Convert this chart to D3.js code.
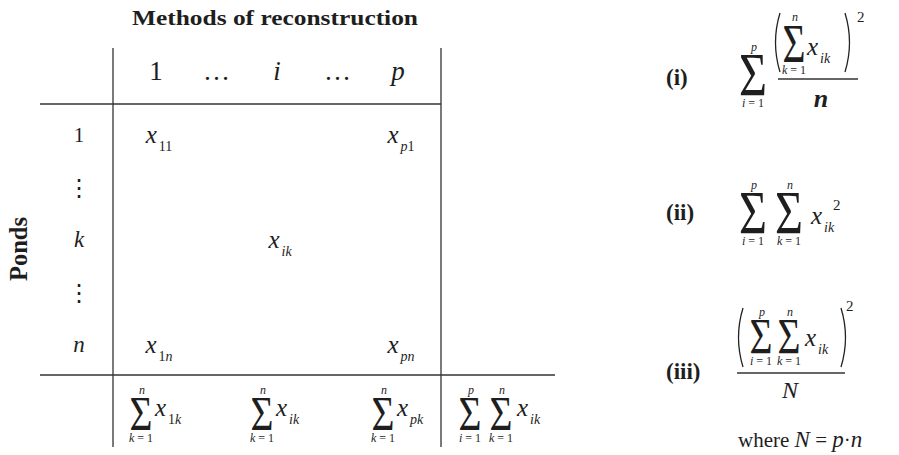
<!DOCTYPE html>
<html>
<head>
<meta charset="utf-8">
<title>Methods of reconstruction</title>
<style>
  body { margin: 0; background: #fff; }
  svg text { font-family: "Liberation Serif", "DejaVu Serif", serif; fill: #1e1e1e; }
  svg .it { font-family: "Liberation Serif", "DejaVu Serif", serif; font-style: italic; }
  .rule { stroke: #333; stroke-width: 1.3; }
</style>
</head>
<body>
<svg width="899" height="455"></svg>
<script src="https://d3js.org/d3.v7.min.js"></script>
<script>
// table contents
var colLabels = ["1", "\u2026", "i", "\u2026", "p"];
var rowLabels = ["1", "\u22ee", "k", "\u22ee", "n"];
var cells = [
  {col: 0, row: 0, sub: "11"},
  {col: 4, row: 0, sub: "p1"},
  {col: 2, row: 2, sub: "ik"},
  {col: 0, row: 4, sub: "1n"},
  {col: 4, row: 4, sub: "pn"}
];
var colTotals = [{col: 0, sub: "1k"}, {col: 2, sub: "ik"}, {col: 4, sub: "pk"}];
var formulaLabels = ["(i)", "(ii)", "(iii)"];

var svg = d3.select("svg");

var colX = d3.scalePoint().domain(d3.range(colLabels.length)).range([156, 398]);
var rowY = d3.scalePoint().domain(d3.range(rowLabels.length)).range([135, 345]);

var tb = {left: 40, stub: 113, right: 441, outer: 555, top: 48, head: 104, foot: 375, bottom: 447};

function isLetter(s) { return /[a-zA-Z]/.test(s); }

// letters italic, digits and signs upright
function addRuns(t, str, size, dy, dx) {
  str.match(/[a-zA-Z]+|[^a-zA-Z]+/g).forEach(function (r, i) {
    var ts = t.append("tspan").text(r)
      .attr("class", isLetter(r) ? "it" : null)
      .style("font-size", size + "px");
    if (i === 0) ts.attr("dy", dy || 0).attr("dx", dx || 0);
  });
  return t;
}

// x with subscript
function xVar(g, x, y, sub, anchor, size) {
  size = size || 25;
  var t = g.append("text").attr("x", x).attr("y", y).attr("text-anchor", anchor || "start");
  t.append("tspan").text("x").attr("class", "it").style("font-size", size + "px");
  addRuns(t, sub, size * 0.56, size * 0.3, 2);
  return t;
}

function small(g, x, y, str, size) {
  return addRuns(g.append("text").attr("x", x).attr("y", y).attr("text-anchor", "middle"), str, size || 12);
}

// big summation sign, cx centre, bottom edge, height h, width w
function sigma(g, cx, bottom, h, w) {
  var fs = h / 0.662;
  var t = g.append("text").text("\u03a3")
    .attr("text-anchor", "middle")
    .style("font-size", fs + "px");
  var bw = t.node().getBBox().width;
  t.attr("transform", "translate(" + cx + "," + bottom + ") scale(" + (w / bw) + ",1)");
}

function sumWithLimits(g, cx, bottom, h, w, top, low) {
  sigma(g, cx, bottom, h, w);
  small(g, cx + 1, bottom - h - 4, top);
  small(g, cx, bottom + 12, low);
}

function paren(g, x, y0, y1, dir) {
  var p = d3.path();
  p.moveTo(x, y0);
  p.quadraticCurveTo(x - dir * 9, (y0 + y1) / 2, x, y1);
  g.append("path").attr("d", p.toString()).attr("fill", "none")
    .attr("stroke", "#222").attr("stroke-width", 1.3);
}

// ---------- table ----------
var T = svg.append("g");

T.append("text").attr("x", 275).attr("y", 25).attr("text-anchor", "middle")
  .attr("textLength", 286).attr("lengthAdjust", "spacingAndGlyphs")
  .style("font-weight", "bold").style("font-size", "20px")
  .text("Methods of reconstruction");

T.append("text").attr("transform", "translate(27,249) rotate(-90)")
  .attr("text-anchor", "middle").attr("textLength", 64).attr("lengthAdjust", "spacingAndGlyphs")
  .style("font-weight", "bold").style("font-size", "26px")
  .text("Ponds");

T.append("line").attr("class", "rule").attr("x1", tb.stub).attr("x2", tb.stub).attr("y1", tb.top).attr("y2", tb.bottom);
T.append("line").attr("class", "rule").attr("x1", tb.right).attr("x2", tb.right).attr("y1", tb.top).attr("y2", tb.bottom);
T.append("line").attr("class", "rule").attr("x1", tb.left).attr("x2", tb.right).attr("y1", tb.head).attr("y2", tb.head);
T.append("line").attr("class", "rule").attr("x1", tb.left).attr("x2", tb.outer).attr("y1", tb.foot).attr("y2", tb.foot);

T.selectAll(".colLabel").data(colLabels).enter().append("text")
  .attr("class", function (d) { return isLetter(d) ? "colLabel it" : "colLabel"; })
  .attr("x", function (d, i) { return colX(i); })
  .attr("y", 80)
  .attr("text-anchor", "middle")
  .style("font-size", "27px")
  .text(function (d) { return d; });

T.selectAll(".rowLabel").data(rowLabels).enter().append("text")
  .attr("class", function (d) { return isLetter(d) ? "rowLabel it" : "rowLabel"; })
  .attr("x", 79)
  .attr("y", function (d, i) { return rowY(i) + (d === "\u22ee" ? 8 : 7); })
  .attr("text-anchor", "middle")
  .style("font-size", function (d) { return d === "\u22ee" ? "24px" : (isLetter(d) ? "23px" : "21px"); })
  .style("font-family", function (d) { return d === "\u22ee" ? "DejaVu Serif" : null; })
  .text(function (d) { return d; });

cells.forEach(function (c) {
  xVar(T, colX(c.col) + 3, rowY(c.row) + 8, c.sub, "middle");
});

colTotals.forEach(function (c) {
  var cx = colX(c.col);
  sumWithLimits(T, cx - 15, 430, 32, 23, "n", "k = 1");
  xVar(T, cx - 1, 416, c.sub, "start");
});

var gx = (tb.right + tb.outer) / 2;
sumWithLimits(T, gx - 28, 430, 32, 23, "p", "i = 1");
sumWithLimits(T, gx + 3, 430, 32, 23, "n", "k = 1");
xVar(T, gx + 19, 416, "ik", "start");

// ---------- formulas ----------
var F = svg.append("g");
var labelY = [85, 220, 379];

F.selectAll(".flabel").data(formulaLabels).enter().append("text")
  .attr("class", "flabel")
  .attr("x", 666).attr("y", function (d, i) { return labelY[i]; })
  .style("font-weight", "bold").style("font-size", "23px")
  .text(function (d) { return d; });

// (i)
sumWithLimits(F, 753, 95, 40, 28, "p", "i = 1");
F.append("line").attr("class", "rule").attr("x1", 778).attr("x2", 858).attr("y1", 79).attr("y2", 79);
paren(F, 780, 13, 72, 1);
paren(F, 845, 13, 72, -1);
sumWithLimits(F, 794, 62, 37, 23, "n", "k = 1");
xVar(F, 807, 55, "ik", "start");
F.append("text").attr("x", 857).attr("y", 22).style("font-size", "15px").text("2");
F.append("text").attr("x", 821).attr("y", 107).attr("text-anchor", "middle").attr("class", "it")
  .style("font-size", "26px").style("font-weight", "bold").text("n");

// (ii)
sumWithLimits(F, 753, 233, 40, 28, "p", "i = 1");
sumWithLimits(F, 789, 233, 40, 28, "n", "k = 1");
xVar(F, 811, 224, "ik", "start");
F.append("text").attr("x", 833).attr("y", 210).style("font-size", "15px").text("2");

// (iii)
paren(F, 743, 308, 367, 1);
paren(F, 841, 308, 367, -1);
sumWithLimits(F, 761, 353, 33, 23, "p", "i = 1");
sumWithLimits(F, 789, 353, 33, 23, "n", "k = 1");
xVar(F, 805, 346, "ik", "start");
F.append("text").attr("x", 846).attr("y", 311).style("font-size", "15px").text("2");
F.append("line").attr("class", "rule").attr("x1", 737).attr("x2", 845).attr("y1", 373).attr("y2", 373);
F.append("text").attr("x", 790).attr("y", 398).attr("text-anchor", "middle").attr("class", "it")
  .style("font-size", "24px").text("N");

var w = F.append("text").attr("x", 738).attr("y", 447).style("font-size", "21px");
w.append("tspan").text("where ");
w.append("tspan").text("N").attr("class", "it").style("font-size", "23px");
w.append("tspan").text(" = ");
w.append("tspan").text("p").attr("class", "it").style("font-size", "23px");
w.append("tspan").text("\u00b7");
w.append("tspan").text("n").attr("class", "it").style("font-size", "23px");
</script>
</body>
</html>
